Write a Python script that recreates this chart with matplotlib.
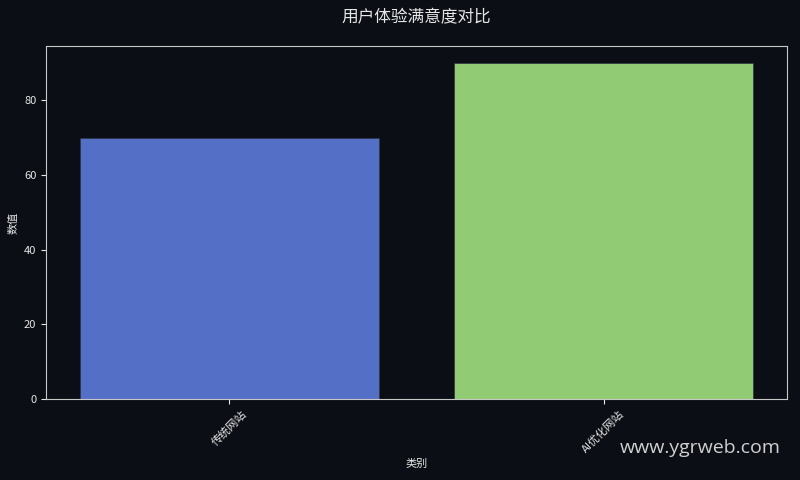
import matplotlib
matplotlib.use("Agg")
import matplotlib.pyplot as plt

categories = ["传统网站", "AI优化网站"]
values = [70, 90]
colors = ["#5470C6", "#91CC75"]
title = "用户体验满意度对比"
xlabel = "类别"
ylabel = "数值"
watermark = "www.ygrweb.com"

plt.rcParams['font.family'] = ['Noto Sans CJK SC', 'DejaVu Sans']
bg = "#0B0E14"
fg = "#E6E6E6"

fig = plt.figure(figsize=(8, 4.8), dpi=100, facecolor=bg)
ax = fig.add_axes([46/800, 1-399/480, (787-46)/800, (399-46)/480])
ax.set_facecolor(bg)
x = list(range(len(categories)))
ax.bar(x, values, width=0.8, color=colors, edgecolor="#2b3340", linewidth=0.5)
ax.set_xlim(-0.49, len(categories) - 0.51)
ax.set_ylim(0, max(values) * 1.05)
ax.set_xticks(x)
ax.set_xticklabels(categories, rotation=45, fontsize=8, color=fg)
ax.tick_params(axis='y', labelsize=8, colors=fg)
ax.tick_params(axis='x', colors=fg)
ax.set_yticks([0, 20, 40, 60, 80])
for s in ax.spines.values():
    s.set_color("#C8C8C8")
    s.set_linewidth(0.8)
ax.set_xlabel(xlabel, fontsize=8, color=fg, labelpad=3)
ax.set_ylabel(ylabel, fontsize=8, color=fg)
fig.text(416.5/800, 1-18/480, title, ha='center', va='center', fontsize=12, color=fg)
fig.text(781/800, 1-448/480, watermark, ha='right', va='center', fontsize=14,
         color="#D0D0D0", family=['Open Sans', 'DejaVu Sans'])
fig.savefig("out.png", dpi=100, facecolor=bg)
